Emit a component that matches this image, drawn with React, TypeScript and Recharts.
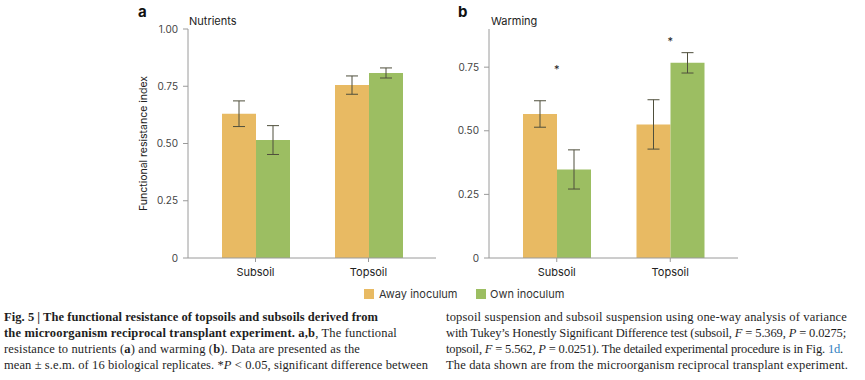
import React, { useLayoutEffect, useRef, useState } from "react";
import { ComposedChart, Bar, XAxis, YAxis, ErrorBar, Scatter } from "recharts";

const categories = ["Subsoil", "Topsoil"];
const seriesNames = ["Away inoculum", "Own inoculum"];
const seriesColors = ["#E8BA63", "#9CBE62"];

const nutrientsAway = [0.63, 0.755];
const nutrientsAwayErr = [0.056, 0.04];
const nutrientsOwn = [0.515, 0.808];
const nutrientsOwnErr = [0.063, 0.022];

const warmingAway = [0.566, 0.525];
const warmingAwayErr = [0.052, 0.097];
const warmingOwn = [0.348, 0.767];
const warmingOwnErr = [0.077, 0.04];
const warmingStars = [0.75, 0.86];

const nutrientsTicks = [0, 0.25, 0.5, 0.75, 1];
const warmingTicks = [0, 0.25, 0.5, 0.75];

const nutrientsData = categories.map((c, i) => ({
  cat: c,
  away: nutrientsAway[i],
  awayErr: nutrientsAwayErr[i],
  own: nutrientsOwn[i],
  ownErr: nutrientsOwnErr[i],
}));

const warmingData = categories.map((c, i) => ({
  cat: c,
  away: warmingAway[i],
  awayErr: warmingAwayErr[i],
  own: warmingOwn[i],
  ownErr: warmingOwnErr[i],
  star: warmingStars[i],
}));

const FONT = "Inter, 'Open Sans', sans-serif";
const AXIS = "#9a9a9a";
const TICK_TXT = "#444";
const ERR = "#4f4f3c";

const fmt = (v: number) => (v === 0 ? "0" : v.toFixed(2));

const StarShape = (props: any) => {
  const { cx, cy } = props;
  return (
    <text x={cx} y={cy + 6} textAnchor="middle" fontSize={11} fill="#222" fontFamily={FONT}>
      *
    </text>
  );
};

function Panel({ data, ticks, domain, width, height, margin, yWidth, yLabel, stars }: any) {
  return (
    <ComposedChart width={width} height={height} data={data} margin={margin} barGap={0}>
      <XAxis
        dataKey="cat"
        xAxisId="b"
        padding={{ left: 11, right: 11 }}
        height={27}
        tickSize={4}
        tickMargin={6}
        stroke={AXIS}
        tick={{ fill: "#222", fontSize: 11, fontFamily: FONT }}
      />
      <XAxis
        dataKey="cat"
        xAxisId="t"
        orientation="top"
        height={0}
        tick={false}
        tickLine={false}
        stroke={AXIS}
      />
      <YAxis
        yAxisId="l"
        domain={domain}
        ticks={ticks}
        tickFormatter={fmt}
        width={yWidth}
        tickSize={5}
        tickMargin={5}
        stroke={AXIS}
        allowDataOverflow
        tick={{ fill: TICK_TXT, fontSize: 10, fontFamily: FONT }}
        label={
          yLabel
            ? {
                value: yLabel,
                angle: -90,
                position: "insideLeft",
                offset: 11,
                style: { textAnchor: "middle", fill: "#222", fontSize: 10.5, fontFamily: FONT },
              }
            : undefined
        }
      />
      <YAxis
        yAxisId="r"
        orientation="right"
        domain={domain}
        width={0}
        tick={false}
        tickLine={false}
        stroke={AXIS}
      />
      <Bar dataKey="away" name={seriesNames[0]} fill={seriesColors[0]} barSize={34} xAxisId="b" yAxisId="l" isAnimationActive={false}>
        <ErrorBar dataKey="awayErr" width={6} stroke={ERR} strokeWidth={1} />
      </Bar>
      <Bar dataKey="own" name={seriesNames[1]} fill={seriesColors[1]} barSize={34} xAxisId="b" yAxisId="l" isAnimationActive={false}>
        <ErrorBar dataKey="ownErr" width={6} stroke={ERR} strokeWidth={1} />
      </Bar>
      {stars ? (
        <Scatter dataKey="star" xAxisId="b" yAxisId="l" shape={StarShape} isAnimationActive={false} />
      ) : null}
    </ComposedChart>
  );
}

function CapLine({ x, y, w, bold, children }: any) {
  const ref = useRef<SVGTextElement>(null);
  const [ls, setLs] = useState(0);
  useLayoutEffect(() => {
    const el = ref.current;
    if (!el) return;
    const natural = el.getComputedTextLength();
    const n = (el.textContent || "").length;
    if (n > 0) setLs((w - natural) / n);
  }, [w]);
  return (
    <text
      ref={ref}
      x={x}
      y={y}
      fontFamily="'Liberation Serif', serif"
      fontSize={12.5}
      fill="#1e1e1e"
      fontWeight={bold ? 700 : 400}
      style={{ letterSpacing: `${ls}px` }}
    >
      {children}
    </text>
  );
}

export default function App() {
  return (
    <div
      style={{
        position: "absolute",
        left: 0,
        top: 0,
        width: 865,
        height: 380,
        background: "#fff",
        overflow: "hidden",
        fontFamily: FONT,
      }}
    >
      <div style={{ position: "absolute", left: 0, top: 0 }}>
        <Panel
          data={nutrientsData}
          ticks={nutrientsTicks}
          domain={[0, 1]}
          width={445}
          height={285}
          margin={{ top: 29, right: 9, bottom: 0, left: 132 }}
          yWidth={56}
          yLabel="Functional resistance index"
        />
      </div>
      <div style={{ position: "absolute", left: 445, top: 0 }}>
        <Panel
          data={warmingData}
          ticks={warmingTicks}
          domain={[0, 0.9]}
          width={300}
          height={285}
          margin={{ top: 29, right: 7, bottom: 0, left: 0 }}
          yWidth={44}
          stars
        />
      </div>
      <svg
        width={865}
        height={380}
        style={{ position: "absolute", left: 0, top: 0, pointerEvents: "none" }}
      >
        <text x={138} y={17} fontSize={15} fontWeight={700} fontFamily={FONT} fill="#111">a</text>
        <text x={458} y={17} fontSize={15} fontWeight={700} fontFamily={FONT} fill="#111">b</text>
        <text x={189} y={25} fontSize={11} fontFamily={FONT} fill="#222">Nutrients</text>
        <text x={491} y={25} fontSize={11} fontFamily={FONT} fill="#222">Warming</text>

        <rect x={364} y={289} width={10} height={10} fill={seriesColors[0]} />
        <text x={379} y={298} fontSize={11} fontFamily={FONT} fill="#333">{seriesNames[0]}</text>
        <rect x={476} y={289} width={10} height={10} fill={seriesColors[1]} />
        <text x={490} y={298} fontSize={11} fontFamily={FONT} fill="#333">{seriesNames[1]}</text>

        <CapLine x={4} y={321} w={374} bold>
          Fig. 5 | The functional resistance of topsoils and subsoils derived from
        </CapLine>
        <CapLine x={4} y={337} w={393}>
          <tspan fontWeight={700}>the microorganism reciprocal transplant experiment. a,b</tspan>, The functional
        </CapLine>
        <CapLine x={4} y={353} w={356}>
          resistance to nutrients (<tspan fontWeight={700}>a</tspan>) and warming (<tspan fontWeight={700}>b</tspan>). Data are presented as the
        </CapLine>
        <CapLine x={4} y={369} w={424}>
          mean ± s.e.m. of 16 biological replicates. *<tspan fontStyle="italic">P</tspan> {"<"} 0.05, significant difference between
        </CapLine>

        <CapLine x={446} y={321} w={401}>
          topsoil suspension and subsoil suspension using one-way analysis of variance
        </CapLine>
        <CapLine x={446} y={337} w={400}>
          with Tukey’s Honestly Significant Difference test (subsoil, <tspan fontStyle="italic">F</tspan> = 5.369, <tspan fontStyle="italic">P</tspan> = 0.0275;
        </CapLine>
        <CapLine x={446} y={353} w={397}>
          topsoil, <tspan fontStyle="italic">F</tspan> = 5.562, <tspan fontStyle="italic">P</tspan> = 0.0251). The detailed experimental procedure is in Fig. <tspan fill="#2f7fc1">1d</tspan>.
        </CapLine>
        <CapLine x={446} y={369} w={402}>
          The data shown are from the microorganism reciprocal transplant experiment.
        </CapLine>
      </svg>
    </div>
  );
}
